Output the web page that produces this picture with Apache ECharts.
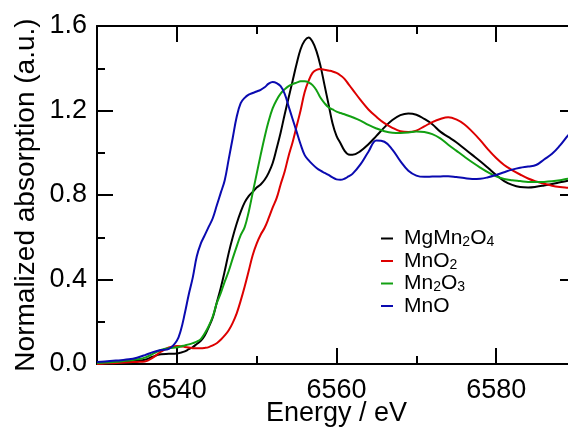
<!DOCTYPE html>
<html>
<head>
<meta charset="utf-8">
<script src="https://cdn.jsdelivr.net/npm/echarts@6/dist/echarts.min.js"></script>
<style>
html,body{margin:0;padding:0;background:#fff;}
#chart{width:568px;height:428px;}
</style>
</head>
<body>
<div id="chart"></div>
<script>
// Energy grid (eV)
const energies = [
  6530, 6531, 6532, 6533, 6534, 6535, 6536, 6537, 6538, 6539,
  6540, 6540.5, 6541, 6541.5, 6542, 6542.5, 6543, 6543.5, 6544, 6544.5,
  6545, 6545.5, 6546, 6546.5, 6547, 6547.5, 6548, 6548.5, 6549, 6549.5,
  6550, 6550.5, 6551, 6551.5, 6552, 6552.5, 6553, 6553.5, 6554, 6554.5,
  6555, 6555.5, 6556, 6556.5, 6557, 6557.5, 6558, 6558.5, 6559, 6559.5,
  6560, 6560.5, 6561, 6561.5, 6562,
  6563, 6564, 6565, 6566, 6567, 6568, 6569, 6570, 6571, 6572,
  6573, 6574, 6575, 6576, 6577, 6578, 6579, 6580, 6581, 6582,
  6583, 6584, 6585, 6586, 6587, 6588, 6589, 6590
];

const mgMn2O4 = [
  0.005, 0.006, 0.008, 0.010, 0.013, 0.016, 0.020, 0.035, 0.046, 0.048,
  0.050, 0.054, 0.060, 0.070, 0.080, 0.095, 0.110, 0.135, 0.175, 0.220,
  0.290, 0.360, 0.440, 0.526, 0.600, 0.665, 0.720, 0.765, 0.795, 0.815,
  0.835, 0.850, 0.872, 0.905, 0.950, 1.020, 1.095, 1.180, 1.260, 1.340,
  1.420, 1.490, 1.530, 1.545, 1.525, 1.480, 1.410, 1.320, 1.230, 1.140,
  1.080, 1.045, 1.010, 0.992, 0.990,
  1.008, 1.040, 1.080, 1.120, 1.155, 1.178, 1.186, 1.180, 1.160, 1.135,
  1.100, 1.075, 1.050, 1.020, 0.990, 0.960, 0.928, 0.895, 0.866, 0.848,
  0.838, 0.836, 0.839, 0.845, 0.852, 0.860, 0.868, 0.875
];

const mnO2 = [
  0.000, 0.002, 0.004, 0.006, 0.008, 0.010, 0.012, 0.030, 0.058, 0.078,
  0.085, 0.084, 0.081, 0.078, 0.075, 0.074, 0.074, 0.076, 0.080, 0.088,
  0.098, 0.115, 0.135, 0.160, 0.195, 0.240, 0.300, 0.367, 0.440, 0.515,
  0.570, 0.612, 0.645, 0.690, 0.740, 0.785, 0.850, 0.910, 0.985, 1.050,
  1.125, 1.200, 1.285, 1.340, 1.378, 1.392, 1.396, 1.393, 1.389, 1.385,
  1.378, 1.366, 1.350, 1.325, 1.300,
  1.250, 1.205, 1.170, 1.140, 1.118, 1.102, 1.098, 1.105, 1.125, 1.145,
  1.160, 1.168, 1.158, 1.135, 1.100, 1.060, 1.015, 0.975, 0.942, 0.918,
  0.897, 0.878, 0.864, 0.853, 0.844, 0.838, 0.834, 0.830
];

const mn2O3 = [
  0.005, 0.007, 0.009, 0.012, 0.016, 0.022, 0.030, 0.048, 0.066, 0.075,
  0.079, 0.083, 0.088, 0.093, 0.099, 0.106, 0.118, 0.145, 0.180, 0.225,
  0.288, 0.335, 0.390, 0.440, 0.500, 0.557, 0.610, 0.648, 0.720, 0.810,
  0.900, 0.990, 1.075, 1.150, 1.210, 1.250, 1.280, 1.300, 1.315, 1.325,
  1.332, 1.338, 1.338, 1.333, 1.320, 1.295, 1.260, 1.235, 1.215, 1.205,
  1.195, 1.188, 1.182, 1.175, 1.168,
  1.152, 1.132, 1.115, 1.102, 1.095, 1.094, 1.096, 1.101, 1.098, 1.088,
  1.068, 1.038, 1.010, 0.982, 0.955, 0.930, 0.907, 0.888, 0.876, 0.870,
  0.866, 0.862, 0.861, 0.862, 0.865, 0.870, 0.877, 0.880
];

const mnO = [
  0.010, 0.012, 0.015, 0.018, 0.022, 0.030, 0.042, 0.056, 0.066, 0.072,
  0.110, 0.160, 0.240, 0.330, 0.410, 0.510, 0.570, 0.610, 0.650, 0.690,
  0.750, 0.810, 0.870, 0.970, 1.070, 1.170, 1.235, 1.260, 1.275, 1.283,
  1.290, 1.298, 1.310, 1.327, 1.335, 1.330, 1.315, 1.280, 1.220, 1.160,
  1.100, 1.040, 0.990, 0.965, 0.945, 0.928, 0.915, 0.905, 0.895, 0.883,
  0.874, 0.872, 0.877, 0.888, 0.900,
  0.945, 1.005, 1.058, 1.052, 1.015, 0.960, 0.915, 0.892, 0.886, 0.887,
  0.888, 0.889, 0.885, 0.880, 0.876, 0.877, 0.884, 0.895, 0.908, 0.920,
  0.929, 0.935, 0.942, 0.968, 0.995, 1.035, 1.082, 1.120
];

const seriesNames = ['MgMn2O4', 'MnO2', 'Mn2O3', 'MnO'];
const seriesValues = [mgMn2O4, mnO2, mn2O3, mnO];
const seriesColors = ['#000000', '#dd0000', '#12a012', '#0a0ab0'];

const xLabelValues = [6540, 6560, 6580];

const FONT = '"Liberation Sans", Arial, Helvetica, sans-serif';

function subscriptName(name) {
  return '{f|}{n|' + name.replace(/(\d)/g, '}{s|$1}{n|') + '}';
}

function axisLineStyle() {
  return { show: true, onZero: false, lineStyle: { color: '#000', width: 2 } };
}

function xAxisDef(pos, withLabels) {
  return {
    type: 'value', position: pos, min: 6530, max: 6590, interval: 20,
    axisLine: axisLineStyle(),
    axisTick: { show: true, inside: true, length: 8, lineStyle: { color: '#000', width: 2 } },
    minorTick: { show: true, splitNumber: 2, length: 16, lineStyle: { color: '#000', width: 2 } },
    splitLine: { show: false }, minorSplitLine: { show: false },
    axisLabel: withLabels ? {
      show: true, customValues: xLabelValues, margin: 13,
      color: '#000', fontSize: 27, fontFamily: FONT,
      formatter: v => String(v)
    } : { show: false },
    name: withLabels ? 'Energy / eV' : '',
    nameLocation: 'middle', nameGap: 36, nameMoveOverlap: false,
    nameTextStyle: { color: '#000', fontSize: 27, fontFamily: FONT }
  };
}

function yAxisDef(pos, withLabels) {
  return {
    type: 'value', position: pos, min: 0, max: 1.6, interval: 0.4,
    axisLine: axisLineStyle(),
    axisTick: { show: true, inside: true, length: 16, lineStyle: { color: '#000', width: 2 } },
    minorTick: { show: true, splitNumber: 2, length: 8, lineStyle: { color: '#000', width: 2 } },
    splitLine: { show: false }, minorSplitLine: { show: false },
    axisLabel: withLabels ? {
      show: true, margin: 10, color: '#000', fontSize: 27, fontFamily: FONT,
      formatter: v => v.toFixed(1)
    } : { show: false },
    name: withLabels ? 'Normalized absorption (a.u.)' : '',
    nameLocation: 'middle', nameGap: 57, nameMoveOverlap: false,
    nameTextStyle: { color: '#000', fontSize: 28, fontFamily: FONT }
  };
}

const option = {
  animation: false,
  backgroundColor: '#fff',
  grid: { left: 97, top: 26, right: -8, bottom: 64, containLabel: false, outerBoundsMode: 'none' },
  legend: {
    orient: 'vertical', left: 376, top: 223, itemGap: 1,
    icon: 'rect', itemWidth: 12, itemHeight: 2,
    data: seriesNames,
    formatter: subscriptName,
    textStyle: {
      color: '#000', fontFamily: FONT, fontSize: 21,
      rich: {
        f: { padding: [0, 0, 0, 6], fontSize: 21, lineHeight: 22, fontFamily: FONT, color: '#000' },
        n: { fontSize: 21, lineHeight: 22, fontFamily: FONT, color: '#000' },
        s: { fontSize: 14, lineHeight: 10, verticalAlign: 'bottom', fontFamily: FONT, color: '#000' }
      }
    }
  },
  xAxis: [xAxisDef('bottom', true), xAxisDef('top', false)],
  yAxis: [yAxisDef('left', true), yAxisDef('right', false)],
  series: seriesNames.map((name, k) => ({
    name: name,
    type: 'line',
    xAxisIndex: 0, yAxisIndex: 0,
    showSymbol: false,
    smooth: 0.4,
    color: seriesColors[k],
    lineStyle: { color: seriesColors[k], width: 2 },
    data: energies.map((e, i) => [e, seriesValues[k][i]])
  }))
};

const chart = echarts.init(document.getElementById('chart'), null, { renderer: 'canvas' });
chart.setOption(option);
</script>
</body>
</html>
